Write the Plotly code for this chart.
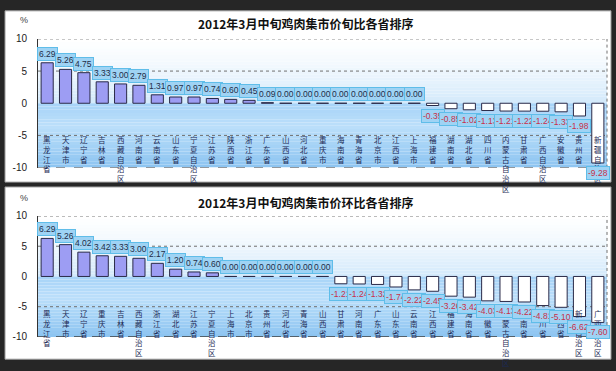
import plotly.graph_objects as go

# ---------------- data ----------------
title_top = "2012年3月中旬鸡肉集市价旬比各省排序"
categories_top = ["黑龙江省", "天津市", "辽宁省", "吉林省", "西藏自治区", "河南省", "云南省", "山东省",
                  "宁夏自治区", "江苏省", "陕西省", "浙江省", "广东省", "山西省", "河北省", "重庆市",
                  "海南省", "青海省", "北京市", "江西省", "上海市", "福建省", "湖南省", "湖北省",
                  "四川省", "内蒙古自治区", "甘肃省", "广西自治区", "安徽省", "贵州省", "新疆自治区"]
values_top = [6.29, 5.26, 4.75, 3.33, 3.00, 2.79, 1.31, 0.97, 0.97, 0.74, 0.60, 0.45, 0.09,
              0.00, 0.00, 0.00, 0.00, 0.00, 0.00, 0.00, 0.00,
              -0.35, -0.85, -1.02, -1.13, -1.21, -1.22, -1.24, -1.33, -1.98, -9.28]

title_bottom = "2012年3月中旬鸡肉集市价环比各省排序"
categories_bottom = ["黑龙江省", "天津市", "辽宁省", "重庆市", "吉林省", "西藏自治区", "浙江省", "湖北省",
                     "江苏省", "宁夏自治区", "上海市", "北京市", "贵州省", "河北省", "青海省", "山西省",
                     "甘肃省", "河南省", "广东省", "山东省", "云南省", "江西省", "福建省", "海南省",
                     "安徽省", "内蒙古自治区", "湖南省", "四川省", "陕西省", "新疆自治区", "广西自治区"]
values_bottom = [6.29, 5.26, 4.02, 3.42, 3.33, 3.00, 2.17, 1.20, 0.74, 0.60,
                 0.00, 0.00, 0.00, 0.00, 0.00, 0.00,
                 -1.21, -1.24, -1.32, -1.74, -2.22, -2.45, -3.26, -3.42, -4.03, -4.13,
                 -4.22, -4.81, -5.10, -6.62, -7.60]

y_ticks = [10, 5, 0, -5, -10]
y_tick_text = ["10", "5", "0", "-5", "-10"]

# ---------------- layout constants ----------------
W, H = 616, 371
def px_x(p): return p / W
def px_y(p): return 1 - p / H

POS_FILL = "#9d9df3"
NEG_FILL = "#ffffff"
BAR_LINE = "#2a2a48"
BOX_BG = "#9fd3f4"
BOX_BORDER = "#5fbde9"

fig = go.Figure()

panels = [
    dict(cats=categories_top, vals=values_top, title=title_top, xa="x", ya="y",
         dom=(px_y(167), px_y(34)), panel=(5, 182), title_y=18, pct_y=14, lab_y=-4.5),
    dict(cats=categories_bottom, vals=values_bottom, title=title_bottom, xa="x2", ya="y2",
         dom=(px_y(342), px_y(217)), panel=(187, 365), title_y=203, pct_y=198, lab_y=-4.9),
]

shapes = []
annotations = []

def hexmix(c1, c2, t):
    a = [int(c1[i:i + 2], 16) for i in (1, 3, 5)]
    b = [int(c2[i:i + 2], 16) for i in (1, 3, 5)]
    return "#%02x%02x%02x" % tuple(round(a[k] + (b[k] - a[k]) * t) for k in range(3))

# panel backgrounds
for p in panels:
    shapes.append(dict(type="rect", xref="paper", yref="paper", layer="below",
                       x0=px_x(5), x1=px_x(611), y0=px_y(p["panel"][1]), y1=px_y(p["panel"][0]),
                       fillcolor="white", line=dict(color="#9a9a9a", width=1)))

for idx, p in enumerate(panels):
    xa, ya = p["xa"], p["ya"]
    xdom = "x domain" if xa == "x" else "x2 domain"
    colors = [POS_FILL if v > 0 else NEG_FILL for v in p["vals"]]
    fig.add_trace(go.Bar(x=p["cats"], y=p["vals"], xaxis=xa, yaxis=ya, width=0.66,
                         marker=dict(color=colors, line=dict(color=BAR_LINE, width=1)),
                         showlegend=False, hoverinfo="x+y"))

    # gradient background bands
    n = 20
    for k in range(n):
        y0 = 10 - 10 * k / n
        y1 = 10 - 10 * (k + 1) / n
        shapes.append(dict(type="rect", xref=xdom, yref=ya, layer="below", x0=0, x1=1, y0=y1, y1=y0,
                           fillcolor=hexmix("#ffffff", "#d3e9fb", ((k + 0.5) / n) ** 1.3),
                           line=dict(width=0)))
    for k in range(n):
        y0 = -10 * k / n
        y1 = -10 * (k + 1) / n
        t = (k + 0.5) / n
        if t < 0.35:
            c = hexmix("#a6d3f8", "#bcdffa", t / 0.35)
        else:
            c = hexmix("#bcdffa", "#8cc4f1", (t - 0.35) / 0.65)
        shapes.append(dict(type="rect", xref=xdom, yref=ya, layer="below", x0=0, x1=1, y0=y1, y1=y0,
                           fillcolor=c, line=dict(width=0)))
    # grid lines
    for gv in (10, 5, -5):
        shapes.append(dict(type="line", xref=xdom, yref=ya, layer="below", x0=0, x1=1, y0=gv, y1=gv,
                           line=dict(color="#707070", width=1, dash="dot")))
    shapes.append(dict(type="line", xref=xdom, yref=ya, layer="below", x0=0, x1=1, y0=-10, y1=-10,
                       line=dict(color="#404040", width=1.2, dash="dash")))
    shapes.append(dict(type="line", xref=xdom, yref=ya, layer="below", x0=1, x1=1, y0=-10, y1=10,
                       line=dict(color="#707070", width=1, dash="dot")))

    # category labels (vertical, stacked characters)
    for c in p["cats"]:
        annotations.append(dict(x=c, y=p["lab_y"], xref=xa, yref=ya, yanchor="top", xanchor="center",
                                text="<br>".join(list(c)), showarrow=False,
                                font=dict(size=7.5, color="#1c2a55", family="Noto Sans CJK SC")))
    # value boxes
    for c, v in zip(p["cats"], p["vals"]):
        if v >= 0:
            annotations.append(dict(x=c, y=v, xref=xa, yref=ya, yanchor="bottom", yshift=2,
                                    text="%.2f" % v, showarrow=False, bgcolor=BOX_BG,
                                    bordercolor=BOX_BORDER, borderwidth=1, borderpad=1,
                                    font=dict(size=8.5, color="#1e2d48", family="Liberation Sans")))
        else:
            annotations.append(dict(x=c, y=v, xref=xa, yref=ya, yanchor="top", yshift=-3,
                                    text="%.2f" % v, showarrow=False, bgcolor=BOX_BG,
                                    bordercolor=BOX_BORDER, borderwidth=1, borderpad=1,
                                    font=dict(size=8.5, color="#c8304a", family="Liberation Sans")))
    # title and % unit
    annotations.append(dict(x=px_x(305), y=px_y(p["title_y"]), xref="paper", yref="paper",
                            xanchor="center", yanchor="middle",
                            text="<b>" + p["title"] + "</b>", showarrow=False,
                            font=dict(size=12, color="#111111", family="Noto Sans CJK SC")))
    annotations.append(dict(x=px_x(24), y=px_y(p["pct_y"]), xref="paper", yref="paper",
                            xanchor="center", yanchor="middle",
                            text="%", showarrow=False,
                            font=dict(size=9, color="#444444", family="Liberation Sans")))

xdomain = [px_x(38), px_x(607)]
fig.update_layout(
    width=W, height=H,
    margin=dict(l=0, r=0, t=0, b=0),
    paper_bgcolor="#262626",
    plot_bgcolor="rgba(0,0,0,0)",
    shapes=shapes,
    annotations=annotations,
    xaxis=dict(domain=xdomain, anchor="y", range=[-0.5, 30.5], showticklabels=False,
               showgrid=False, zeroline=False, fixedrange=True),
    yaxis=dict(domain=list(panels[0]["dom"]), anchor="x", range=[-10, 10], tickvals=y_ticks,
               ticktext=y_tick_text, showgrid=False, zeroline=False, showline=True,
               linecolor="#333333", linewidth=1, ticks="", ticklabelstandoff=8,
               tickfont=dict(size=10, color="#222222", family="Liberation Sans")),
    xaxis2=dict(domain=xdomain, anchor="y2", range=[-0.5, 30.5], showticklabels=False,
                showgrid=False, zeroline=False, fixedrange=True),
    yaxis2=dict(domain=list(panels[1]["dom"]), anchor="x2", range=[-10, 10], tickvals=y_ticks,
                ticktext=y_tick_text, showgrid=False, zeroline=False, showline=True,
                linecolor="#333333", linewidth=1, ticks="", ticklabelstandoff=8,
                tickfont=dict(size=10, color="#222222", family="Liberation Sans")),
)

fig.write_html(
    "out.html",
    config={"displayModeBar": False},
    post_script="document.body.style.margin='0px';document.body.style.overflow='hidden';"
                "document.body.style.background='#262626';",
)
